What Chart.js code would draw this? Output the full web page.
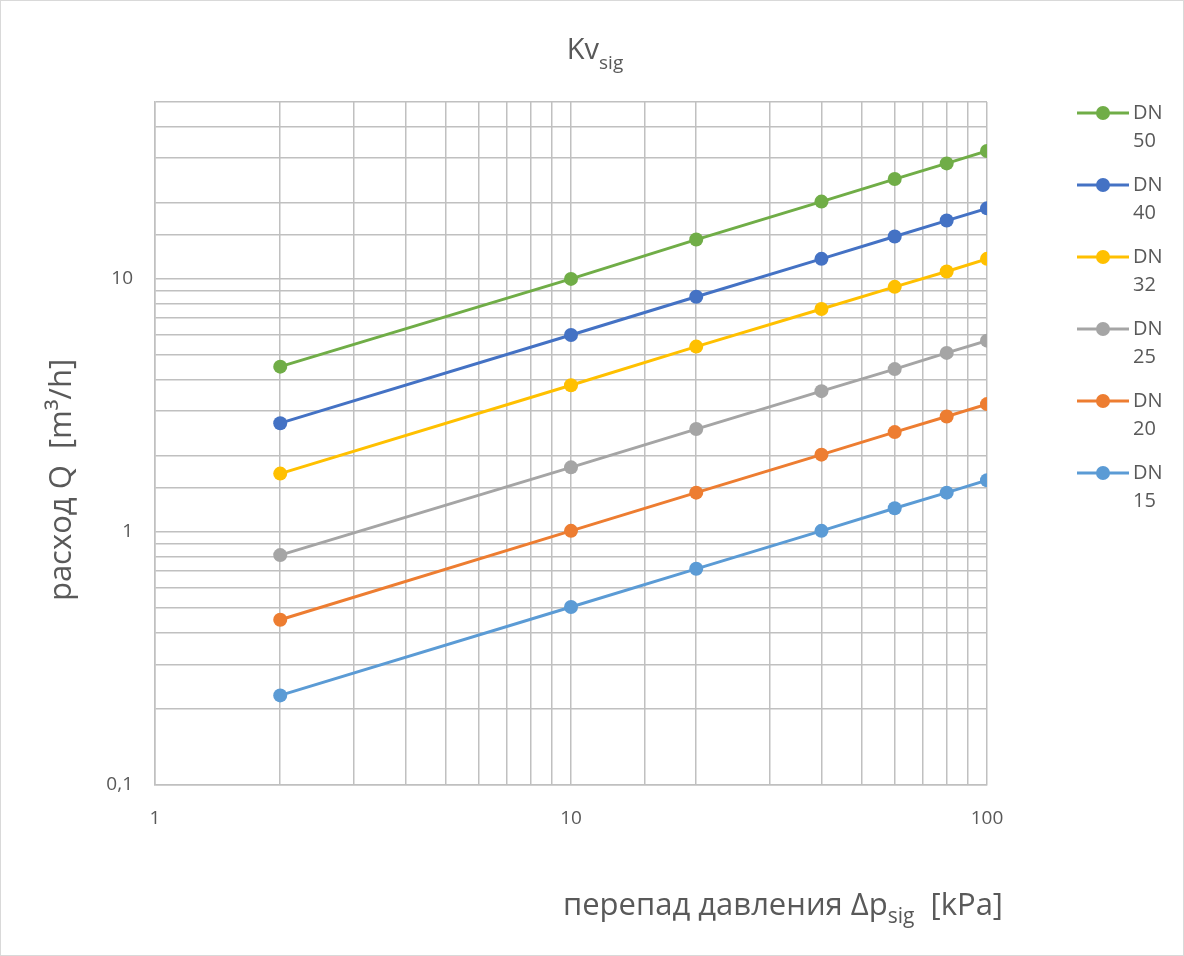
<!DOCTYPE html>
<html>
<head>
<meta charset="utf-8">
<script src="https://cdn.jsdelivr.net/npm/chart.js@4.4.1/dist/chart.umd.min.js"></script>
<style>
  html, body { margin: 0; padding: 0; background: #fff; }
  #wrap { width: 1184px; height: 956px; }
</style>
</head>
<body>
<div id="wrap"><canvas id="myChart" width="1184" height="956"></canvas></div>
<script>
// ===============================
// Datos del gráfico
// ===============================
const pressureDrop = [2, 10, 20, 40, 60, 80, 100];

const dn50 = [4.5, 10, 14.3, 20.2, 24.8, 28.6, 32];
const dn40 = [2.69, 6.0, 8.5, 12, 14.7, 17, 19];
const dn32 = [1.7, 3.8, 5.4, 7.6, 9.3, 10.7, 12];
const dn25 = [0.81, 1.8, 2.55, 3.6, 4.4, 5.1, 5.7];
const dn20 = [0.45, 1.01, 1.43, 2.02, 2.48, 2.86, 3.2];
const dn15 = [0.226, 0.505, 0.715, 1.01, 1.24, 1.43, 1.6];

const seriesLabels = ['DN 50', 'DN 40', 'DN 32', 'DN 25', 'DN 20', 'DN 15'];
const seriesValues = [dn50, dn40, dn32, dn25, dn20, dn15];
const seriesColors = ['#70ad47', '#4472c4', '#ffc000', '#a5a5a5', '#ed7d31', '#5b9bd5'];

const FONT = "'Open Sans', 'Liberation Sans', sans-serif";
const TEXT_COLOR = '#595959';
const GRID_COLOR = '#c0c0c0';

// ===============================
// Texto con subíndice
// ===============================
function drawParts(ctx, parts, x, y, align) {
    let total = 0;
    parts.forEach(p => {
        ctx.font = `${p.size}px ${FONT}`;
        p.w = ctx.measureText(p.text).width;
        total += p.w;
    });
    let cx = align === 'center' ? x - total / 2 : align === 'right' ? x - total : x;
    ctx.textAlign = 'left';
    ctx.textBaseline = 'alphabetic';
    parts.forEach(p => {
        ctx.font = `${p.size}px ${FONT}`;
        ctx.fillText(p.text, cx, y + (p.dy || 0));
        cx += p.w;
    });
}

// ===============================
// Plugin: fondo, títulos y leyenda
// ===============================
const overlay = {
    id: 'overlay',
    beforeDraw(chart) {
        const ctx = chart.ctx;
        ctx.save();
        ctx.fillStyle = '#ffffff';
        ctx.fillRect(0, 0, chart.width, chart.height);
        ctx.strokeStyle = '#d9d9d9';
        ctx.lineWidth = 1;
        ctx.strokeRect(0.5, 0.5, chart.width - 1, chart.height - 1);
        ctx.restore();
    },
    afterDraw(chart) {
        const ctx = chart.ctx;
        ctx.save();
        ctx.fillStyle = TEXT_COLOR;

        // título
        drawParts(ctx, [
            { text: 'Kv', size: 29 },
            { text: 'sig', size: 19, dy: 10 }
        ], 595, 59, 'center');

        // título eje X
        drawParts(ctx, [
            { text: 'перепад давления Δp', size: 31 },
            { text: 'sig', size: 21, dy: 8 },
            { text: '  [kPa]', size: 31 }
        ], 1003, 915, 'right');

        // título eje Y
        ctx.save();
        ctx.translate(71, 480);
        ctx.rotate(-Math.PI / 2);
        drawParts(ctx, [{ text: 'расход Q  [m³/h]', size: 31 }], 0, 0, 'center');
        ctx.restore();

        // leyenda
        chart.data.datasets.forEach((ds, i) => {
            const y0 = 113 + i * 72;
            ctx.strokeStyle = ds.borderColor;
            ctx.lineWidth = 3;
            ctx.beginPath();
            ctx.moveTo(1077, y0);
            ctx.lineTo(1129, y0);
            ctx.stroke();
            ctx.fillStyle = ds.borderColor;
            ctx.beginPath();
            ctx.arc(1103, y0, 7, 0, Math.PI * 2);
            ctx.fill();

            const lines = ds.label.split(' ');
            ctx.fillStyle = TEXT_COLOR;
            ctx.font = `20px ${FONT}`;
            ctx.textAlign = 'left';
            ctx.textBaseline = 'middle';
            ctx.fillText(lines[0], 1133, y0);
            ctx.fillText(lines[1], 1133, y0 + 28);
        });
        ctx.restore();
    }
};

function decadeLabel(value) {
    const l = Math.log10(value);
    if (Math.abs(l - Math.round(l)) > 1e-6) return '';
    const v = Math.pow(10, Math.round(l));
    return String(v).replace('.', ',');
}

// ===============================
// Renderizar gráfica
// ===============================
const ctx = document.getElementById('myChart').getContext('2d');

new Chart(ctx, {
    type: 'scatter',
    data: {
        datasets: seriesLabels.map((label, i) => ({
            label: label,
            data: pressureDrop.map((p, j) => ({ x: p, y: seriesValues[i][j] })),
            borderColor: seriesColors[i],
            backgroundColor: seriesColors[i],
            showLine: true,
            borderWidth: 3,
            pointRadius: 7,
            pointHoverRadius: 7,
            pointBorderWidth: 0
        }))
    },
    options: {
        responsive: false,
        animation: false,
        layout: {
            padding: { left: 0, top: 102, right: 197, bottom: 0 }
        },
        plugins: {
            legend: { display: false },
            title: { display: false },
            tooltip: { enabled: false }
        },
        scales: {
            x: {
                type: 'logarithmic',
                min: 1,
                max: 100,
                afterFit(scale) { scale.height = 171; },
                grid: { color: GRID_COLOR, lineWidth: 1.5, drawTicks: false },
                border: { color: GRID_COLOR, width: 1.5 },
                ticks: {
                    autoSkip: false,
                    maxRotation: 0,
                    padding: 22,
                    color: TEXT_COLOR,
                    font: { family: FONT, size: 19 },
                    callback: decadeLabel
                }
            },
            y: {
                type: 'logarithmic',
                min: 0.1,
                max: 50,
                afterFit(scale) { scale.width = 155; },
                grid: { color: GRID_COLOR, lineWidth: 1.5, drawTicks: false },
                border: { color: GRID_COLOR, width: 1.5 },
                ticks: {
                    autoSkip: false,
                    padding: 22,
                    color: TEXT_COLOR,
                    font: { family: FONT, size: 19 },
                    callback: decadeLabel
                }
            }
        }
    },
    plugins: [overlay]
});
</script>
</body>
</html>
